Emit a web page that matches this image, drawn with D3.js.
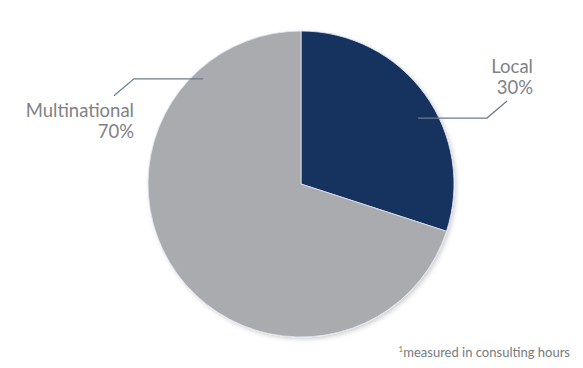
<!DOCTYPE html>
<html lang="en">
<head>
<meta charset="utf-8">
<script src="https://d3js.org/d3.v7.min.js"></script>
<style>
body { margin: 0; background: #fff; }
text { font-family: Lato, "Open Sans", sans-serif; }
</style>
</head>
<body>
<svg id="chart"></svg>
<script>
// chart data
var categories = ["Local", "Multinational"];
var shares = [30, 70];
var colors = ["#16305e", "#aaabae"];

var width = 583, height = 368;
var cx = 301, cy = 184, radius = 153;

var svg = d3.select("#chart")
    .attr("width", width)
    .attr("height", height);

// soft shadow like the original
var defs = svg.append("defs");
var f = defs.append("filter").attr("id", "shadow")
    .attr("x", "-10%").attr("y", "-10%").attr("width", "120%").attr("height", "120%");
f.append("feDropShadow")
    .attr("dx", 2).attr("dy", 2).attr("stdDeviation", 2)
    .attr("flood-color", "#000").attr("flood-opacity", 0.18);

var pie = d3.pie().sort(null).value(function(d) { return d; });
var arc = d3.arc().innerRadius(0).outerRadius(radius);

var g = svg.append("g")
    .attr("transform", "translate(" + cx + "," + cy + ")")
    .attr("filter", "url(#shadow)");

g.selectAll("path")
    .data(pie(shares))
    .enter()
    .append("path")
    .attr("d", arc)
    .attr("fill", function(d, i) { return colors[i]; })
    .attr("stroke", "#dfe6f2")
    .attr("stroke-width", 0.8);

// leader lines (elbow style), starting inside each slice
var lineColor = "#6b7b8c";
function polar(angleDeg, frac) {
  var a = angleDeg * Math.PI / 180;
  return [Math.sin(a) * radius * frac, -Math.cos(a) * radius * frac];
}

var pL = polar(60.6, 0.878);
var pM = polar(-43, 0.94);
var leaders = [
  [pL, [pL[0] + 69, pL[1]], [pL[0] + 89, pL[1] - 17]],
  [pM, [pM[0] - 69, pM[1]], [pM[0] - 89, pM[1] + 17]]
];
svg.append("g")
    .attr("transform", "translate(" + cx + "," + cy + ")")
    .selectAll("polyline")
    .data(leaders)
    .enter()
    .append("polyline")
    .attr("points", function(d) { return d.join(" "); })
    .attr("fill", "none").attr("stroke", lineColor).attr("stroke-width", 1.2);

// labels
var labels = [
  {x: 533, y: 73, lines: [categories[0], shares[0] + "%"]},
  {x: 134, y: 117, lines: [categories[1], shares[1] + "%"]}
];
labels.forEach(function(l) {
  var t = svg.append("text")
      .attr("x", l.x).attr("y", l.y)
      .attr("text-anchor", "end")
      .attr("font-size", 18.5)
      .attr("fill", "#808285");
  l.lines.forEach(function(s, i) {
    t.append("tspan").attr("x", l.x).attr("dy", i === 0 ? 0 : 21).text(s);
  });
});

// footnote
var fn = svg.append("text")
    .attr("x", 570).attr("y", 357)
    .attr("text-anchor", "end")
    .attr("font-size", 13)
    .attr("fill", "#77797c");
fn.append("tspan").attr("font-size", 8).attr("dy", -5).text("1");
fn.append("tspan").attr("dy", 5).text("measured in consulting hours");
</script>
</body>
</html>
